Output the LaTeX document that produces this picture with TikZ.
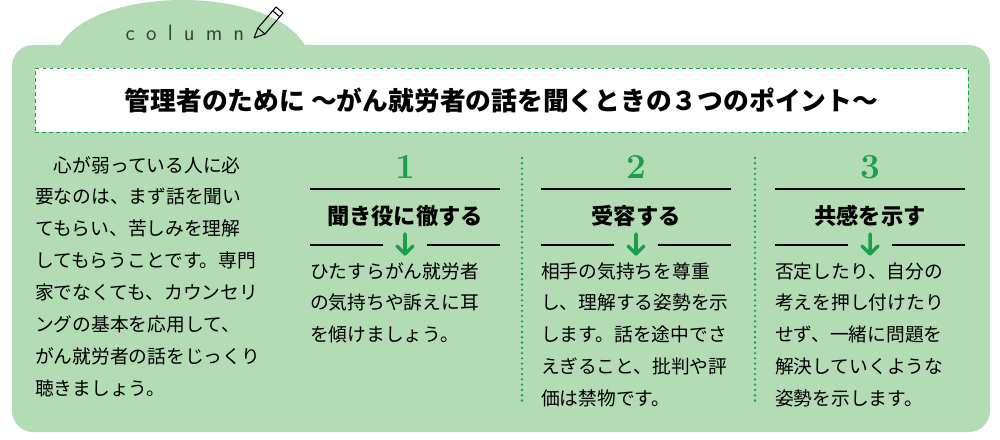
\documentclass[tikz,border=0pt]{standalone}
\usepackage{fontspec}
\setmainfont{Noto Sans CJK JP}
\newfontfamily\latinfont{Latin Modern Roman}
\usetikzlibrary{positioning}
\definecolor{panelgreen}{HTML}{B3DBB4}
\definecolor{pointgreen}{HTML}{1AA04A}

\tikzset{
  body/.style={anchor=north west,align=left,inner sep=0pt,
    font=\fontsize{16pt}{27.2pt}\selectfont},
  head/.style={font=\fontsize{19pt}{22pt}\selectfont\bfseries,inner sep=0pt},
  num/.style={font=\fontsize{30pt}{32pt}\latinfont\bfseries,text=pointgreen,inner sep=0pt},
  rule/.style={line width=1pt}
}

\begin{document}
\begin{tikzpicture}[x=0.3mm,y=-0.3mm]
\useasboundingbox (0,0) rectangle (1000,440);

% panel and tab
\fill[panelgreen] (55,60) .. controls (68,-20) and (297,-20) .. (310,60) -- cycle;
\fill[panelgreen,rounded corners=18pt] (12,45) rectangle (990,432);

% column label with pencil
\node[font=\fontsize{19pt}{20pt}\sffamily,text=black!75,inner sep=0pt] (col) at (185,33) {c\,\,\,o\,\,\,l\,\,\,u\,\,\,m\,\,\,n};
\draw[line width=0.9pt,line join=round] (254,38) -- (258,28) -- (276,7) -- (283,13) -- (265,34) -- cycle
  (258,28) -- (265,34) (273,11) -- (280,17);

% title box
\node[draw=pointgreen,dashed,fill=white,minimum width=933*0.3mm,minimum height=64*0.3mm,
  inner sep=0pt,font=\fontsize{22pt}{24pt}\selectfont\bfseries] (title) at (501.5,100)
  {管理者のために ～がん就労者の話を聞くときの３つのポイント～};

% intro
\node[body] (intro) at (35,156) {\hspace{1em}心が弱っている人に必\\要なのは、まず話を聞い\\てもらい、苦しみを理解\\してもらうことです。専門\\家でなくても、カウンセリ\\ングの基本を応用して、\\がん就労者の話をじっくり\\聴きましょう。};

% separators
\draw[pointgreen,line width=2.2pt,line cap=round,dash pattern=on 0pt off 4.5pt] (522,158) -- (522,402);
\draw[pointgreen,line width=2.2pt,line cap=round,dash pattern=on 0pt off 4.5pt] (755,158) -- (755,402);

% points
\foreach \cx/\n/\h/\t in {
  405/1/聞き役に徹する/{ひたすらがん就労者\\の気持ちや訴えに耳\\を傾けましょう。},
  636/2/受容する/{相手の気持ちを尊重\\し、理解する姿勢を示\\します。話を途中でさ\\えぎること、批判や評\\価は禁物です。},
  870/3/共感を示す/{否定したり、自分の\\考えを押し付けたり\\せず、一緒に問題を\\解決していくような\\姿勢を示します。}}{
  \node[num] (n\n) at (\cx,167) {\n};
  \draw[rule] (\cx-95,189) -- (\cx+95,189);
  \node[head] (h\n) at (\cx,216) {\h};
  \draw[rule] (\cx-95,245) -- (\cx-22,245) (\cx+22,245) -- (\cx+95,245);
  \draw[pointgreen,line width=3pt,line cap=round,line join=round]
    (\cx,234) -- (\cx,254) (\cx-8,246) -- (\cx,254) -- (\cx+8,246);
  \node[body] (t\n) at (\cx-95,262) {\t};
}
\end{tikzpicture}
\end{document}
